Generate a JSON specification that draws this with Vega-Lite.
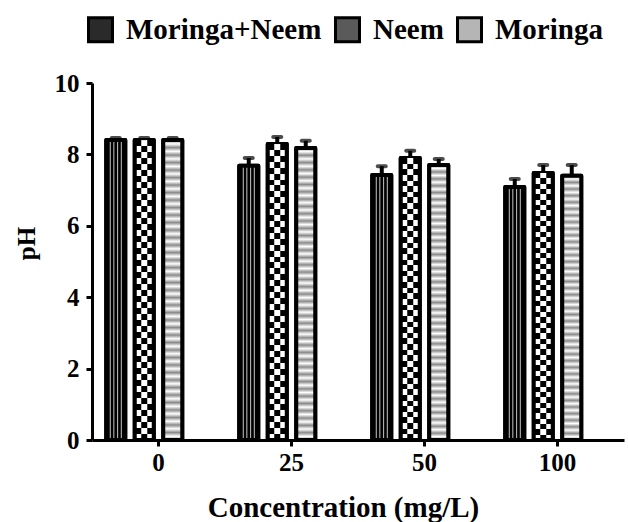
{
  "$schema": "https://vega.github.io/schema/vega-lite/v6.json",
  "width": 532,
  "height": 357,
  "autosize": "none",
  "padding": {"left": 92, "top": 83, "right": 4, "bottom": 82},
  "background": "white",
  "config": {
    "view": {"stroke": null},
    "font": "Liberation Serif",
    "axis": {
      "domainColor": "black", "domainWidth": 3, "tickColor": "black", "tickWidth": 3, "tickSize": 6,
      "labelFont": "Liberation Serif", "labelFontWeight": "bold", "labelFontSize": 25, "labelColor": "black",
      "titleFont": "Liberation Serif", "titleFontWeight": "bold", "titleFontSize": 29, "titleColor": "black",
      "grid": false
    }
  },
  "data": {"values": [
    {"conc": "0", "series": "Moringa+Neem", "ph": 8.4, "upper": 8.46},
    {"conc": "0", "series": "Neem", "ph": 8.4, "upper": 8.46},
    {"conc": "0", "series": "Moringa", "ph": 8.4, "upper": 8.46},
    {"conc": "25", "series": "Moringa+Neem", "ph": 7.68, "upper": 7.9},
    {"conc": "25", "series": "Neem", "ph": 8.29, "upper": 8.49},
    {"conc": "25", "series": "Moringa", "ph": 8.18, "upper": 8.38},
    {"conc": "50", "series": "Moringa+Neem", "ph": 7.42, "upper": 7.67},
    {"conc": "50", "series": "Neem", "ph": 7.9, "upper": 8.1},
    {"conc": "50", "series": "Moringa", "ph": 7.7, "upper": 7.87},
    {"conc": "100", "series": "Moringa+Neem", "ph": 7.09, "upper": 7.31},
    {"conc": "100", "series": "Neem", "ph": 7.48, "upper": 7.7},
    {"conc": "100", "series": "Moringa", "ph": 7.4, "upper": 7.7}
  ]},
  "encoding": {
    "x": {
      "field": "conc", "type": "nominal", "sort": ["0", "25", "50", "100"],
      "scale": {"paddingInner": 0, "paddingOuter": 0},
      "title": "Concentration (mg/L)",
      "axis": {"labelAngle": 0, "labelPadding": 4, "titleX": 251, "titleY": 76, "titleAlign": "center", "titleBaseline": "alphabetic"}
    },
    "xOffset": {
      "field": "series", "type": "nominal",
      "scale": {"domain": ["Moringa+Neem", "Neem", "Moringa", "_"], "paddingInner": 0.333, "paddingOuter": 0.5}
    }
  },
  "layer": [
    {
      "mark": {"type": "bar", "stroke": "black", "strokeWidth": 4, "strokeJoin": "round"},
      "encoding": {
        "y": {
          "field": "ph", "type": "quantitative", "title": "pH",
          "scale": {"domain": [0, 10], "nice": false},
          "axis": {"values": [0, 2, 4, 6, 8, 10], "labelPadding": 7, "titleFontSize": 25, "titleX": -66, "titleY": 160, "titleAngle": -90, "titleAlign": "center", "titleBaseline": "middle"}
        },
        "color": {
          "field": "series", "type": "nominal",
          "scale": {"domain": ["Moringa+Neem", "Neem", "Moringa"], "range": ["#2a2a2a", "#5a5a5a", "#b5b5b5"]},
          "legend": {
            "orient": "none", "legendX": -6, "legendY": -68, "direction": "horizontal", "title": null,
            "symbolType": "square", "symbolSize": 576, "symbolStrokeColor": "black", "symbolStrokeWidth": 3, "symbolOpacity": 1,
            "labelFont": "Liberation Serif", "labelFontWeight": "bold", "labelFontSize": 29, "labelColor": "black",
            "labelOffset": 11, "columnPadding": 7, "labelLimit": 400
          }
        }
      }
    },
    {
      "transform": [{"filter": "datum.series === 'Moringa+Neem'"}],
      "mark": {"type": "bar", "stroke": "black", "strokeWidth": 4, "strokeJoin": "round", "fill": {"gradient": "linear", "x1": 0, "y1": 0, "x2": 1, "y2": 0, "stops": [
        {"offset": 0, "color": "#000000"}, {"offset": 0.16, "color": "#000000"}, {"offset": 0.21, "color": "#d0d0d0"}, {"offset": 0.26, "color": "#000000"},
        {"offset": 0.35, "color": "#000000"}, {"offset": 0.4, "color": "#d0d0d0"}, {"offset": 0.45, "color": "#000000"},
        {"offset": 0.55, "color": "#000000"}, {"offset": 0.6, "color": "#d0d0d0"}, {"offset": 0.65, "color": "#000000"},
        {"offset": 0.74, "color": "#000000"}, {"offset": 0.79, "color": "#d0d0d0"}, {"offset": 0.84, "color": "#000000"}, {"offset": 1, "color": "#000000"}
      ]}},
      "encoding": {"y": {"field": "ph", "type": "quantitative"}}
    },
    {
      "transform": [{"filter": "datum.series === 'Neem'"}],
      "mark": {"type": "bar", "stroke": "black", "strokeWidth": 4, "strokeJoin": "round", "fill": {"gradient": "linear", "x1": 0, "y1": 0, "x2": 0, "y2": 1, "stops": [
        {"offset": 0, "color": "#000"}, {"offset": 0.02, "color": "#000"}, {"offset": 0.02, "color": "#fff"}, {"offset": 0.04, "color": "#fff"},
        {"offset": 0.04, "color": "#000"}, {"offset": 0.06, "color": "#000"}, {"offset": 0.06, "color": "#fff"}, {"offset": 0.08, "color": "#fff"},
        {"offset": 0.08, "color": "#000"}, {"offset": 0.1, "color": "#000"}, {"offset": 0.1, "color": "#fff"}, {"offset": 0.12, "color": "#fff"},
        {"offset": 0.12, "color": "#000"}, {"offset": 0.14, "color": "#000"}, {"offset": 0.14, "color": "#fff"}, {"offset": 0.16, "color": "#fff"},
        {"offset": 0.16, "color": "#000"}, {"offset": 0.18, "color": "#000"}, {"offset": 0.18, "color": "#fff"}, {"offset": 0.2, "color": "#fff"},
        {"offset": 0.2, "color": "#000"}, {"offset": 0.22, "color": "#000"}, {"offset": 0.22, "color": "#fff"}, {"offset": 0.24, "color": "#fff"},
        {"offset": 0.24, "color": "#000"}, {"offset": 0.26, "color": "#000"}, {"offset": 0.26, "color": "#fff"}, {"offset": 0.28, "color": "#fff"},
        {"offset": 0.28, "color": "#000"}, {"offset": 0.3, "color": "#000"}, {"offset": 0.3, "color": "#fff"}, {"offset": 0.32, "color": "#fff"},
        {"offset": 0.32, "color": "#000"}, {"offset": 0.34, "color": "#000"}, {"offset": 0.34, "color": "#fff"}, {"offset": 0.36, "color": "#fff"},
        {"offset": 0.36, "color": "#000"}, {"offset": 0.38, "color": "#000"}, {"offset": 0.38, "color": "#fff"}, {"offset": 0.4, "color": "#fff"},
        {"offset": 0.4, "color": "#000"}, {"offset": 0.42, "color": "#000"}, {"offset": 0.42, "color": "#fff"}, {"offset": 0.44, "color": "#fff"},
        {"offset": 0.44, "color": "#000"}, {"offset": 0.46, "color": "#000"}, {"offset": 0.46, "color": "#fff"}, {"offset": 0.48, "color": "#fff"},
        {"offset": 0.48, "color": "#000"}, {"offset": 0.5, "color": "#000"}, {"offset": 0.5, "color": "#fff"}, {"offset": 0.52, "color": "#fff"},
        {"offset": 0.52, "color": "#000"}, {"offset": 0.54, "color": "#000"}, {"offset": 0.54, "color": "#fff"}, {"offset": 0.56, "color": "#fff"},
        {"offset": 0.56, "color": "#000"}, {"offset": 0.58, "color": "#000"}, {"offset": 0.58, "color": "#fff"}, {"offset": 0.6, "color": "#fff"},
        {"offset": 0.6, "color": "#000"}, {"offset": 0.62, "color": "#000"}, {"offset": 0.62, "color": "#fff"}, {"offset": 0.64, "color": "#fff"},
        {"offset": 0.64, "color": "#000"}, {"offset": 0.66, "color": "#000"}, {"offset": 0.66, "color": "#fff"}, {"offset": 0.68, "color": "#fff"},
        {"offset": 0.68, "color": "#000"}, {"offset": 0.7, "color": "#000"}, {"offset": 0.7, "color": "#fff"}, {"offset": 0.72, "color": "#fff"},
        {"offset": 0.72, "color": "#000"}, {"offset": 0.74, "color": "#000"}, {"offset": 0.74, "color": "#fff"}, {"offset": 0.76, "color": "#fff"},
        {"offset": 0.76, "color": "#000"}, {"offset": 0.78, "color": "#000"}, {"offset": 0.78, "color": "#fff"}, {"offset": 0.8, "color": "#fff"},
        {"offset": 0.8, "color": "#000"}, {"offset": 0.82, "color": "#000"}, {"offset": 0.82, "color": "#fff"}, {"offset": 0.84, "color": "#fff"},
        {"offset": 0.84, "color": "#000"}, {"offset": 0.86, "color": "#000"}, {"offset": 0.86, "color": "#fff"}, {"offset": 0.88, "color": "#fff"},
        {"offset": 0.88, "color": "#000"}, {"offset": 0.9, "color": "#000"}, {"offset": 0.9, "color": "#fff"}, {"offset": 0.92, "color": "#fff"},
        {"offset": 0.92, "color": "#000"}, {"offset": 0.94, "color": "#000"}, {"offset": 0.94, "color": "#fff"}, {"offset": 0.96, "color": "#fff"},
        {"offset": 0.96, "color": "#000"}, {"offset": 0.98, "color": "#000"}, {"offset": 0.98, "color": "#fff"}, {"offset": 1, "color": "#fff"}
      ]}},
      "encoding": {"y": {"field": "ph", "type": "quantitative"}}
    },
    {
      "transform": [{"filter": "datum.series === 'Neem'"}],
      "mark": {"type": "bar", "width": 6, "fill": {"gradient": "linear", "x1": 0, "y1": 0, "x2": 0, "y2": 1, "stops": [
        {"offset": 0, "color": "#fff"}, {"offset": 0.02, "color": "#fff"}, {"offset": 0.02, "color": "#000"}, {"offset": 0.04, "color": "#000"},
        {"offset": 0.04, "color": "#fff"}, {"offset": 0.06, "color": "#fff"}, {"offset": 0.06, "color": "#000"}, {"offset": 0.08, "color": "#000"},
        {"offset": 0.08, "color": "#fff"}, {"offset": 0.1, "color": "#fff"}, {"offset": 0.1, "color": "#000"}, {"offset": 0.12, "color": "#000"},
        {"offset": 0.12, "color": "#fff"}, {"offset": 0.14, "color": "#fff"}, {"offset": 0.14, "color": "#000"}, {"offset": 0.16, "color": "#000"},
        {"offset": 0.16, "color": "#fff"}, {"offset": 0.18, "color": "#fff"}, {"offset": 0.18, "color": "#000"}, {"offset": 0.2, "color": "#000"},
        {"offset": 0.2, "color": "#fff"}, {"offset": 0.22, "color": "#fff"}, {"offset": 0.22, "color": "#000"}, {"offset": 0.24, "color": "#000"},
        {"offset": 0.24, "color": "#fff"}, {"offset": 0.26, "color": "#fff"}, {"offset": 0.26, "color": "#000"}, {"offset": 0.28, "color": "#000"},
        {"offset": 0.28, "color": "#fff"}, {"offset": 0.3, "color": "#fff"}, {"offset": 0.3, "color": "#000"}, {"offset": 0.32, "color": "#000"},
        {"offset": 0.32, "color": "#fff"}, {"offset": 0.34, "color": "#fff"}, {"offset": 0.34, "color": "#000"}, {"offset": 0.36, "color": "#000"},
        {"offset": 0.36, "color": "#fff"}, {"offset": 0.38, "color": "#fff"}, {"offset": 0.38, "color": "#000"}, {"offset": 0.4, "color": "#000"},
        {"offset": 0.4, "color": "#fff"}, {"offset": 0.42, "color": "#fff"}, {"offset": 0.42, "color": "#000"}, {"offset": 0.44, "color": "#000"},
        {"offset": 0.44, "color": "#fff"}, {"offset": 0.46, "color": "#fff"}, {"offset": 0.46, "color": "#000"}, {"offset": 0.48, "color": "#000"},
        {"offset": 0.48, "color": "#fff"}, {"offset": 0.5, "color": "#fff"}, {"offset": 0.5, "color": "#000"}, {"offset": 0.52, "color": "#000"},
        {"offset": 0.52, "color": "#fff"}, {"offset": 0.54, "color": "#fff"}, {"offset": 0.54, "color": "#000"}, {"offset": 0.56, "color": "#000"},
        {"offset": 0.56, "color": "#fff"}, {"offset": 0.58, "color": "#fff"}, {"offset": 0.58, "color": "#000"}, {"offset": 0.6, "color": "#000"},
        {"offset": 0.6, "color": "#fff"}, {"offset": 0.62, "color": "#fff"}, {"offset": 0.62, "color": "#000"}, {"offset": 0.64, "color": "#000"},
        {"offset": 0.64, "color": "#fff"}, {"offset": 0.66, "color": "#fff"}, {"offset": 0.66, "color": "#000"}, {"offset": 0.68, "color": "#000"},
        {"offset": 0.68, "color": "#fff"}, {"offset": 0.7, "color": "#fff"}, {"offset": 0.7, "color": "#000"}, {"offset": 0.72, "color": "#000"},
        {"offset": 0.72, "color": "#fff"}, {"offset": 0.74, "color": "#fff"}, {"offset": 0.74, "color": "#000"}, {"offset": 0.76, "color": "#000"},
        {"offset": 0.76, "color": "#fff"}, {"offset": 0.78, "color": "#fff"}, {"offset": 0.78, "color": "#000"}, {"offset": 0.8, "color": "#000"},
        {"offset": 0.8, "color": "#fff"}, {"offset": 0.82, "color": "#fff"}, {"offset": 0.82, "color": "#000"}, {"offset": 0.84, "color": "#000"},
        {"offset": 0.84, "color": "#fff"}, {"offset": 0.86, "color": "#fff"}, {"offset": 0.86, "color": "#000"}, {"offset": 0.88, "color": "#000"},
        {"offset": 0.88, "color": "#fff"}, {"offset": 0.9, "color": "#fff"}, {"offset": 0.9, "color": "#000"}, {"offset": 0.92, "color": "#000"},
        {"offset": 0.92, "color": "#fff"}, {"offset": 0.94, "color": "#fff"}, {"offset": 0.94, "color": "#000"}, {"offset": 0.96, "color": "#000"},
        {"offset": 0.96, "color": "#fff"}, {"offset": 0.98, "color": "#fff"}, {"offset": 0.98, "color": "#000"}, {"offset": 1, "color": "#000"}
      ]}},
      "encoding": {"y": {"field": "ph", "type": "quantitative"}}
    },
    {
      "transform": [{"filter": "datum.series === 'Moringa'"}],
      "mark": {"type": "bar", "stroke": "black", "strokeWidth": 4, "strokeJoin": "round", "fill": {"gradient": "linear", "x1": 0, "y1": 0, "x2": 0, "y2": 1, "stops": [
        {"offset": 0, "color": "#8a8a8a"}, {"offset": 0.0125, "color": "#fff"}, {"offset": 0.025, "color": "#8a8a8a"}, {"offset": 0.0375, "color": "#fff"},
        {"offset": 0.05, "color": "#8a8a8a"}, {"offset": 0.0625, "color": "#fff"}, {"offset": 0.075, "color": "#8a8a8a"}, {"offset": 0.0875, "color": "#fff"},
        {"offset": 0.1, "color": "#8a8a8a"}, {"offset": 0.1125, "color": "#fff"}, {"offset": 0.125, "color": "#8a8a8a"}, {"offset": 0.1375, "color": "#fff"},
        {"offset": 0.15, "color": "#8a8a8a"}, {"offset": 0.1625, "color": "#fff"}, {"offset": 0.175, "color": "#8a8a8a"}, {"offset": 0.1875, "color": "#fff"},
        {"offset": 0.2, "color": "#8a8a8a"}, {"offset": 0.2125, "color": "#fff"}, {"offset": 0.225, "color": "#8a8a8a"}, {"offset": 0.2375, "color": "#fff"},
        {"offset": 0.25, "color": "#8a8a8a"}, {"offset": 0.2625, "color": "#fff"}, {"offset": 0.275, "color": "#8a8a8a"}, {"offset": 0.2875, "color": "#fff"},
        {"offset": 0.3, "color": "#8a8a8a"}, {"offset": 0.3125, "color": "#fff"}, {"offset": 0.325, "color": "#8a8a8a"}, {"offset": 0.3375, "color": "#fff"},
        {"offset": 0.35, "color": "#8a8a8a"}, {"offset": 0.3625, "color": "#fff"}, {"offset": 0.375, "color": "#8a8a8a"}, {"offset": 0.3875, "color": "#fff"},
        {"offset": 0.4, "color": "#8a8a8a"}, {"offset": 0.4125, "color": "#fff"}, {"offset": 0.425, "color": "#8a8a8a"}, {"offset": 0.4375, "color": "#fff"},
        {"offset": 0.45, "color": "#8a8a8a"}, {"offset": 0.4625, "color": "#fff"}, {"offset": 0.475, "color": "#8a8a8a"}, {"offset": 0.4875, "color": "#fff"},
        {"offset": 0.5, "color": "#8a8a8a"}, {"offset": 0.5125, "color": "#fff"}, {"offset": 0.525, "color": "#8a8a8a"}, {"offset": 0.5375, "color": "#fff"},
        {"offset": 0.55, "color": "#8a8a8a"}, {"offset": 0.5625, "color": "#fff"}, {"offset": 0.575, "color": "#8a8a8a"}, {"offset": 0.5875, "color": "#fff"},
        {"offset": 0.6, "color": "#8a8a8a"}, {"offset": 0.6125, "color": "#fff"}, {"offset": 0.625, "color": "#8a8a8a"}, {"offset": 0.6375, "color": "#fff"},
        {"offset": 0.65, "color": "#8a8a8a"}, {"offset": 0.6625, "color": "#fff"}, {"offset": 0.675, "color": "#8a8a8a"}, {"offset": 0.6875, "color": "#fff"},
        {"offset": 0.7, "color": "#8a8a8a"}, {"offset": 0.7125, "color": "#fff"}, {"offset": 0.725, "color": "#8a8a8a"}, {"offset": 0.7375, "color": "#fff"},
        {"offset": 0.75, "color": "#8a8a8a"}, {"offset": 0.7625, "color": "#fff"}, {"offset": 0.775, "color": "#8a8a8a"}, {"offset": 0.7875, "color": "#fff"},
        {"offset": 0.8, "color": "#8a8a8a"}, {"offset": 0.8125, "color": "#fff"}, {"offset": 0.825, "color": "#8a8a8a"}, {"offset": 0.8375, "color": "#fff"},
        {"offset": 0.85, "color": "#8a8a8a"}, {"offset": 0.8625, "color": "#fff"}, {"offset": 0.875, "color": "#8a8a8a"}, {"offset": 0.8875, "color": "#fff"},
        {"offset": 0.9, "color": "#8a8a8a"}, {"offset": 0.9125, "color": "#fff"}, {"offset": 0.925, "color": "#8a8a8a"}, {"offset": 0.9375, "color": "#fff"},
        {"offset": 0.95, "color": "#8a8a8a"}, {"offset": 0.9625, "color": "#fff"}, {"offset": 0.975, "color": "#8a8a8a"}, {"offset": 0.9875, "color": "#fff"},
        {"offset": 1, "color": "#8a8a8a"}
      ]}},
      "encoding": {"y": {"field": "ph", "type": "quantitative"}}
    },
    {
      "mark": {"type": "rule", "color": "black", "strokeWidth": 4},
      "encoding": {
        "y": {"field": "ph", "type": "quantitative"},
        "y2": {"field": "upper"}
      }
    },
    {
      "mark": {"type": "tick", "color": "black", "thickness": 4, "size": 12, "orient": "horizontal", "cornerRadius": 2},
      "encoding": {
        "y": {"field": "upper", "type": "quantitative"}
      }
    }
  ]
}
